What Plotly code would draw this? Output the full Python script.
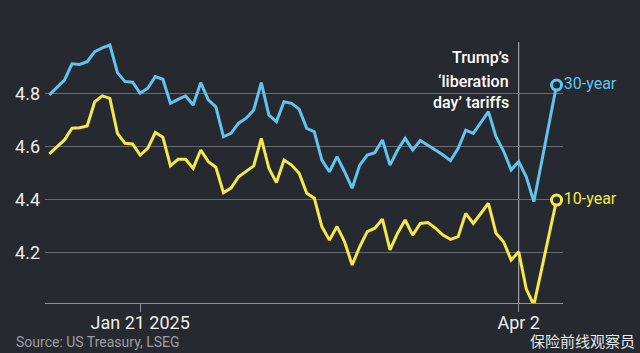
import pandas as pd
import plotly.graph_objects as go

# Trading days from 2 Jan 2025 to 9 Apr 2025 (US bond market holidays excluded)
dates = [d.strftime("%Y-%m-%d") for d in pd.bdate_range(
    "2025-01-02", "2025-04-09", freq="C", holidays=["2025-01-20", "2025-02-17"])]

yield_30y = [4.794, 4.822, 4.850, 4.911, 4.909, 4.919, 4.957, 4.971, 4.982, 4.878,
             4.844, 4.842, 4.800, 4.819, 4.863, 4.853, 4.762, 4.777, 4.790, 4.756,
             4.840, 4.775, 4.749, 4.636, 4.649, 4.687, 4.706, 4.737, 4.840, 4.718,
             4.693, 4.768, 4.762, 4.740, 4.668, 4.655, 4.548, 4.504, 4.561, 4.504,
             4.442, 4.529, 4.567, 4.576, 4.624, 4.529, 4.586, 4.630, 4.586, 4.622,
             4.605, 4.586, 4.567, 4.546, 4.592, 4.661, 4.649, 4.692, 4.731, 4.636,
             4.582, 4.511, 4.542, 4.485, 4.391, 4.537, 4.684, 4.831]

yield_10y = [4.571, 4.597, 4.624, 4.668, 4.670, 4.677, 4.768, 4.790, 4.781, 4.649,
             4.611, 4.609, 4.567, 4.592, 4.652, 4.634, 4.526, 4.551, 4.551, 4.517,
             4.586, 4.542, 4.521, 4.425, 4.442, 4.485, 4.504, 4.526, 4.630, 4.517,
             4.463, 4.548, 4.529, 4.498, 4.423, 4.404, 4.297, 4.246, 4.297, 4.240,
             4.152, 4.221, 4.278, 4.291, 4.325, 4.209, 4.272, 4.322, 4.265, 4.309,
             4.312, 4.291, 4.265, 4.249, 4.259, 4.347, 4.309, 4.348, 4.385, 4.272,
             4.240, 4.171, 4.202, 4.061, 4.001, 4.133, 4.262, 4.397]

series_names = ["30-year", "10-year"]
series_colors = ["#62c3ec", "#f4e84a"]
y_ticks = [4.2, 4.4, 4.6, 4.8]
y_tick_labels = ["4.2", "4.4", "4.6", "4.8"]
x_ticks = ["2025-01-21", "2025-04-02"]
x_tick_labels = ["Jan 21 2025", "Apr 2"]
event_date = "2025-04-02"
event_lines = ["Trump’s", "‘liberation", "day’ tariffs"]
event_line_pos = [0.9316, 0.844, 0.7605]
source_text = "Source: US Treasury, LSEG"
watermark_text = "保险前线观察员"

BG = "#26292f"
FONT = "Roboto"

fig = go.Figure()
for name, vals, col in zip(series_names, [yield_30y, yield_10y], series_colors):
    fig.add_trace(go.Scatter(
        x=dates, y=vals, mode="lines", line=dict(color=col, width=3),
        name=name, hoverinfo="skip", showlegend=False))
    fig.add_trace(go.Scatter(
        x=[dates[-1]], y=[vals[-1]], mode="markers+text",
        marker=dict(symbol="circle", size=10, color=BG, line=dict(color=col, width=3)),
        text=[name], textposition="middle right",
        textfont=dict(family=FONT, size=16, color=col),
        cliponaxis=False, showlegend=False, hoverinfo="skip"))

fig.add_shape(type="line", xref="x", yref="paper", x0=event_date, x1=event_date,
              y0=0, y1=0.992, line=dict(color="#b9bbbf", width=1), layer="below")

for line_text, ypos in zip(event_lines, event_line_pos):
    fig.add_annotation(x=event_date, xref="x", y=ypos, yref="paper",
                       text=line_text, showarrow=False, xanchor="right", yanchor="middle",
                       xshift=-8, align="right",
                       font=dict(family=FONT, size=16, color="#ffffff", weight=500))

fig.add_annotation(x=-0.06, xref="paper", y=-0.148, yref="paper", text=source_text,
                   showarrow=False, xanchor="left", yanchor="middle",
                   font=dict(family=FONT, size=14, color="#9c9ea3"))

fig.add_annotation(x=1.14, xref="paper", y=-0.1845, yref="paper", text=watermark_text,
                   showarrow=False, xanchor="right", yanchor="bottom", borderpad=0,
                   font=dict(family="Noto Sans CJK SC", size=15, color="#e6e6e6"))

fig.update_layout(
    width=640, height=353,
    margin=dict(l=45, r=77, t=40, b=50),
    paper_bgcolor=BG, plot_bgcolor=BG,
    font=dict(family=FONT, color="#e8e8e8"),
    xaxis=dict(type="category", range=[-0.57, 67.85],
               tickmode="array", tickvals=x_ticks, ticktext=x_tick_labels,
               showgrid=False, showline=True, linecolor="#8d9096", linewidth=1,
               ticks="outside", ticklen=8, tickcolor="#8d9096",
               tickfont=dict(family=FONT, size=18, color="#eeeeee"), zeroline=False,
               ticklabelstandoff=-5),
    yaxis=dict(range=[4.0087, 5.001], tickmode="array", tickvals=y_ticks,
               ticktext=y_tick_labels, showgrid=True, gridcolor="#686b72", gridwidth=1,
               zeroline=False, showline=False, ticks="",
               tickfont=dict(family=FONT, size=18, color="#eeeeee"),
               ticklabelstandoff=4),
)

fig.write_html("out.html")
